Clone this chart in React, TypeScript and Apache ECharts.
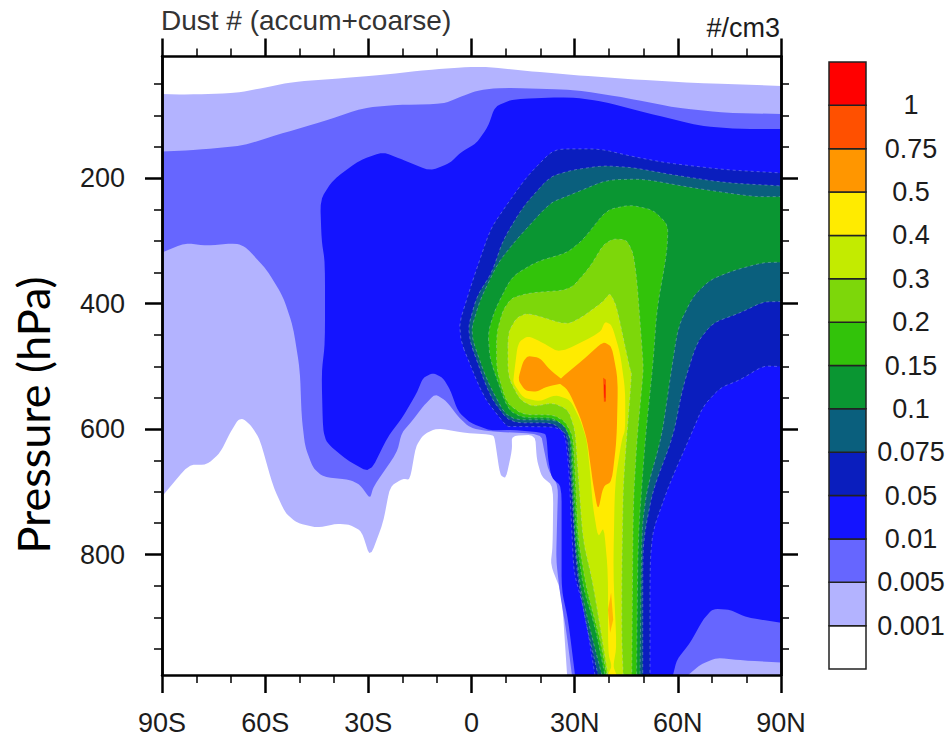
import React, { useEffect, useRef } from "react";
import * as echarts from "echarts";

const titleLeft = "Dust # (accum+coarse)";
const titleRight = "#/cm3";
const yName = "Pressure (hPa)";
const xTickLabels = ["90S", "60S", "30S", "0", "30N", "60N", "90N"];
const yMajor = [200, 400, 600, 800];
const yMinor = [50, 100, 150, 250, 300, 350, 450, 500, 550, 650, 700, 750, 850, 900, 950];
const levelLabels = ["0.001", "0.005", "0.01", "0.05", "0.075", "0.1", "0.15", "0.2", "0.3", "0.4", "0.5", "0.75", "1"];
const barColors = ["#FFFFFF", "#B3B3FF", "#6666FF", "#1414FF", "#0A1EBE", "#0A5F7D", "#0A9632", "#32C30A", "#7DD70A", "#C3EB00", "#FFEB00", "#FF9600", "#FF5000", "#FF0000"];

type P = [number, number];
const c001: P[] = [[-90, 65.7], [-82.7, 66.8], [-68.2, 64], [-60.6, 56], [-51.9, 46.5], [-40.3, 41.8], [-25.7, 35.4], [-12.9, 27.4], [-0.4, 22.6], [4.5, 22.6], [16.1, 29], [29.5, 35.4], [45.2, 41.8], [64.4, 48.1], [90, 52.9], [90, 992], [27.8, 992], [26.2, 860.9], [23, 816.2], [23.6, 787], [23.8, 691.4], [20.4, 675.5], [19, 649], [18.5, 609], [11.7, 610.7], [11.8, 633], [10, 679], [8.3, 673], [6.8, 617], [6.3, 609], [-1.4, 606.4], [-10.1, 598.4], [-14, 609], [-16.2, 627.7], [-17.9, 680.8], [-19.9, 679], [-23.7, 691.4], [-25.7, 749.3], [-29.5, 805], [-31.9, 763.2], [-35.3, 752.5], [-39.2, 750.9], [-45, 757.3], [-50.8, 749.3], [-54.2, 733.4], [-57.7, 691.4], [-61.5, 617.1], [-63.9, 595.9], [-66.3, 583.6], [-67.9, 585.2], [-70.2, 605.9], [-73.1, 637.8], [-77, 656.9], [-82.3, 656.9], [-90, 707.4]];
const c005: P[] = [[-90, 157.6], [-79.9, 154.9], [-66.4, 148.1], [-56.6, 131], [-43.2, 109.8], [-31.5, 88], [-21.7, 83.2], [-8.3, 81.6], [-3.3, 70.5], [1.5, 60.4], [8.3, 55.7], [30.6, 59.3], [45.1, 72.1], [59.7, 88], [74.2, 96], [90, 97.6], [90, 971.9], [79, 968.8], [71.3, 964.5], [66.5, 975.6], [63, 992], [29.2, 992], [27.5, 919.9], [25.7, 860.9], [24.6, 808.3], [24.9, 744.6], [25.2, 690.4], [22.3, 664.9], [21.1, 633], [20.2, 607.5], [5.4, 603.9], [-0.4, 598], [-3.9, 580], [-7.2, 556], [-10.6, 543.8], [-14.1, 564], [-17, 585.2], [-20.3, 605.9], [-21.7, 637.8], [-28.5, 691.4], [-29.5, 711.1], [-32.4, 688.8], [-35.3, 680.8], [-43.2, 676], [-46.1, 661.7], [-48.4, 627.7], [-49.4, 580], [-49.9, 505.5], [-51.9, 436.5], [-54.8, 388.7], [-59.5, 346.2], [-65.4, 311.1], [-68.3, 303.6], [-77, 307.4], [-83.3, 303.6], [-90, 318.6]];
const c01: P[] = [[-43.6, 298.4], [-44, 234.6], [-40.3, 202.7], [-32.4, 170.9], [-25.7, 158.1], [-19.9, 170.9], [-12.1, 188.4], [-6.2, 175.7], [-3.3, 159.7], [1.5, 143.8], [4.8, 117.8], [6.8, 85.9], [12.1, 73.7], [28.7, 70.5], [38.3, 78], [51, 96], [66.5, 116.7], [77.1, 121.5], [90, 121.5], [90, 908.7], [80, 900.3], [75.2, 888], [70.2, 886.4], [67.3, 903.9], [63.6, 940.6], [59.7, 967.7], [58.6, 992], [30.1, 992], [28.1, 903.9], [26.2, 856.1], [26.2, 776.4], [26.2, 691.4], [23.3, 677.6], [22.3, 649], [21.9, 617.1], [21.4, 606], [12.1, 601.1], [5.4, 602.2], [-0.4, 589.9], [-3.9, 572], [-6.2, 537.4], [-8.3, 518.3], [-11.2, 510.3], [-14.1, 518.3], [-15.9, 542.2], [-19.9, 580], [-24.3, 611.8], [-29.5, 669.7], [-36.3, 649], [-42.1, 621.9], [-43.2, 601.1], [-43.6, 510.3], [-42.6, 462.5], [-42.6, 335]];
const c05: P[] = [[-4.3, 444.5], [0.4, 362.1], [5.4, 282.4], [9.2, 250.6], [16.1, 197.5], [22.8, 159.7], [25.7, 153.3], [37.4, 153.3], [47, 165.6], [56.8, 175.7], [74.2, 186.8], [90, 191.6], [90, 500.3], [84.8, 499.2], [78.1, 521.5], [72.3, 534.2], [67.3, 564], [63.6, 611.8], [57.7, 685.6], [52.8, 760.5], [51.9, 813.1], [51.9, 992], [35.9, 992], [33, 892.8], [29.8, 829], [29.2, 765.3], [28.4, 669.7], [27.5, 617.1], [26.2, 601.1], [23.7, 596.4], [12.1, 595.9], [10.2, 595.9], [3.4, 548.1]];
const c075: P[] = [[-1.4, 446.6], [1.5, 388.7], [5.9, 350.9], [9.2, 298.4], [15, 245.3], [22.8, 197.5], [29.5, 186.8], [38.3, 180], [47, 183.1], [58.6, 194.8], [74.2, 207.5], [90, 212.3], [90, 396.7], [84.8, 397.1], [78.1, 414.7], [70.2, 430.6], [65.5, 462.5], [61.5, 532.2], [58.6, 611.8], [52.8, 696.8], [50.5, 760.5], [49.8, 797.2], [49.8, 992], [36.8, 992], [33.5, 914.6], [30.6, 829], [28.8, 669.7], [28, 617.1], [27.2, 606], [23.7, 590], [11.2, 590], [5.4, 548.1]];
const c1: P[] = [[-0.4, 446.6], [2.5, 394], [7.7, 335], [13, 298.4], [22.8, 239.4], [28.7, 226.7], [39.3, 202.7], [49.9, 201.2], [64.4, 215.5], [81.9, 229.4], [90, 229.4], [90, 333.9], [84.8, 334.5], [76.1, 347.3], [69.4, 362.1], [64.4, 388.7], [60.1, 436.5], [57.7, 521.5], [55.3, 611.8], [51, 696.8], [49.5, 760.5], [49, 992], [37.9, 992], [34.5, 919.9], [31.6, 850.8], [30.1, 776.4], [29.2, 669.7], [28.7, 617.1], [28.1, 601.1], [24.8, 585.2], [10.6, 585.2], [4.4, 521.5]];
const c15: P[] = [[4.8, 446.6], [6.8, 409.9], [11.7, 356.9], [19, 332.9], [27.7, 319.1], [32.4, 298.4], [39.3, 250.6], [46.1, 242.6], [52.8, 250.6], [57.2, 274.5], [56.8, 319.1], [53.9, 409.9], [52.8, 494.4], [50.5, 617.1], [48.4, 776.4], [48, 992], [38.8, 992], [35.9, 914.6], [32.4, 850.8], [30.6, 776.4], [29.5, 669.7], [29.2, 621.9], [27.2, 595.9], [23.7, 582], [15, 582], [10.6, 569.3], [5.4, 489.6]];
const c2: P[] = [[7.3, 446.6], [9.2, 409.9], [11.7, 390.8], [17, 382.8], [28.7, 378], [34.5, 340.9], [38.3, 306.3], [41.2, 296.7], [45.1, 298.4], [47, 319.1], [48.1, 362.1], [49.9, 494.4], [49.9, 510.3], [48.1, 617.1], [47, 723.4], [46.6, 992], [39.3, 992], [37.4, 935.8], [33.5, 856.1], [31, 776.4], [30.1, 669.7], [29.5, 611.8], [27.2, 587.9], [23.7, 577.2], [15, 577.2], [10.2, 558.1], [7.3, 505.5]];
const c3: P[] = [[10.6, 446.6], [13.1, 422.7], [16.4, 414.7], [27.7, 433.8], [32.4, 420.6], [38.3, 396.7], [40.3, 382.8], [42.2, 404.6], [46.1, 505.5], [46.6, 510.3], [44.7, 643.7], [44.1, 696.7], [43.7, 829], [43.7, 935.8], [44.1, 992], [39.7, 992], [35.3, 845], [32.4, 776.4], [31, 669.7], [30.1, 601.1], [28.1, 569.3], [23.7, 558.1], [17.9, 564], [14.1, 553.3], [10.6, 516.2]];
const c4: P[] = [[12.4, 510.3], [13.5, 462.5], [16.4, 451.3], [20.8, 462.5], [25.7, 478.4], [37.4, 446.6], [38.8, 428.5], [40.8, 433.8], [43.2, 478.4], [44.7, 537.4], [44.7, 601.1], [43.7, 617.1], [41.7, 685.6], [41.2, 829], [42.2, 946.4], [41.2, 978.3], [42.2, 992], [39.6, 992], [40.8, 978.3], [39.7, 956.5], [39.7, 829], [38.5, 755.2], [36.8, 773.2], [35.3, 723.4], [34.5, 669.7], [33.5, 617.1], [31.6, 585.2], [28.7, 553.3], [24.3, 545.3], [19.9, 556], [15, 550.1], [12.1, 526.2]];
const c5West: P[] = [[13.5, 521.4], [15, 492.3], [16.4, 483.2], [19.9, 486.4], [22.8, 505.5], [27.5, 526], [21.9, 532.1], [19, 540.6], [15.6, 538.5]];
const c5East: P[] = [[24.8, 524.1], [32.4, 489.6], [38.3, 460.4], [40.8, 468.4], [42.6, 521.5], [42.2, 617.1], [40.8, 683.5], [38.3, 691.5], [36.8, 731.3], [35.3, 685.6], [34.8, 665], [33.6, 617.1], [31.6, 580.5], [28.1, 537.4]];
const c5Low: P[] = [[40.6, 860.9], [41.2, 903.9], [40.3, 924.6], [39.7, 888]];
const c75: P[] = [[38.3, 518.3], [39.1, 521.5], [39.1, 556], [38.5, 556.5]];
const c100: P[] = [[38.6, 527.8], [38.9, 531], [38.9, 550], [38.7, 550]];

const contourLayers: { pts: P[]; color: number; edge?: boolean; soft?: boolean; exact?: boolean }[] = [
  { pts: c001, color: 1 },
  { pts: c005, color: 2 },
  { pts: c01, color: 3 },
  { pts: c05, color: 4, edge: true },
  { pts: c075, color: 5, edge: true },
  { pts: c1, color: 6, edge: true },
  { pts: c15, color: 7, edge: true },
  { pts: c2, color: 8, edge: true },
  { pts: c3, color: 9, edge: true },
  { pts: c4, color: 10 },
  { pts: c5West, color: 11 },
  { pts: c5East, color: 11 },
  { pts: c5Low, color: 11, soft: true, exact: true },
  { pts: c75, color: 12, exact: true },
  { pts: c100, color: 13, exact: true },
];

const FONT = "'Liberation Sans', Arial, sans-serif";
const INK = "#1c1c1c";
const LEFT = 162;
const RIGHT = 781;
const BOTTOM = 675;

// Rounds the polygon's drawn corners in pixel space; corners on the plot's frame stay put.
function roundCorners(points: number[][], rounds: number, cut: number): number[][] {
  let pts = points;
  const onFrame = (p: number[]) =>
    Math.abs(p[0] - LEFT) < 0.6 || Math.abs(p[0] - RIGHT) < 0.6 || Math.abs(p[1] - BOTTOM) < 0.6;
  for (let r = 0; r < rounds; r++) {
    const out: number[][] = [];
    for (let i = 0; i < pts.length; i++) {
      const a = pts[(i - 1 + pts.length) % pts.length];
      const p = pts[i];
      const b = pts[(i + 1) % pts.length];
      if (onFrame(p)) {
        out.push(p);
      } else {
        out.push([p[0] + (a[0] - p[0]) * cut, p[1] + (a[1] - p[1]) * cut]);
        out.push([p[0] + (b[0] - p[0]) * cut, p[1] + (b[1] - p[1]) * cut]);
      }
    }
    pts = out;
  }
  return pts;
}

export default function App() {
  const ref = useRef<HTMLDivElement>(null);
  useEffect(() => {
    document.body.style.margin = "0";
    const chart = echarts.init(ref.current!, undefined, { renderer: "svg" });
    const labelStyle = { fontFamily: FONT, fontSize: 27, color: INK };
    const xBase = (position: string) => ({
      type: "value",
      gridIndex: 0,
      position,
      min: -90,
      max: 90,
      interval: 30,
      z: 10,
      splitLine: { show: false },
      axisLine: { show: true, lineStyle: { color: "#000", width: 2.5 } },
      axisTick: { show: true, inside: false, length: 18, lineStyle: { color: "#000", width: 2.5 } },
      minorTick: { show: true, splitNumber: 3, length: 8, lineStyle: { color: "#000", width: 1.5 } },
      minorSplitLine: { show: false },
    });
    const yBase = (position: string, values: number[], major: boolean, labels: boolean) => ({
      type: "value",
      gridIndex: 0,
      position,
      inverse: true,
      min: 6,
      max: 992,
      z: 10,
      splitLine: { show: false },
      axisLine: { show: true, onZero: false, lineStyle: { color: "#000", width: 2.5 } },
      axisTick: {
        show: true,
        inside: false,
        customValues: values,
        length: major ? 17 : 8,
        lineStyle: { color: "#000", width: major ? 2.5 : 1.5 },
      },
      axisLabel: labels
        ? { show: true, customValues: values, margin: 37, ...labelStyle }
        : { show: false },
    });
    const contourSeries = contourLayers.map((layer, i) => ({
      type: "custom",
      name: "level" + i,
      xAxisIndex: 0,
      yAxisIndex: 0,
      clip: true,
      silent: true,
      data: layer.pts,
      renderItem: (params: any, api: any) => {
        if (params.dataIndex !== 0) return null;
        const raw = layer.pts.map((p) => api.coord(p));
        return {
          type: "polygon",
          shape: { points: layer.exact ? raw : roundCorners(raw, 2, 0.17) },
          style: {
            fill: barColors[layer.color],
            opacity: layer.soft ? 0.6 : 1,
            ...(layer.edge ? { stroke: "rgba(195,205,240,0.45)", lineWidth: 0.8, lineDash: [3, 3] } : {}),
          },
        };
      },
    }));
    const option: any = {
      animation: false,
      backgroundColor: "#ffffff",
      title: [
        { text: titleLeft, left: 156, top: 1, textStyle: { fontFamily: FONT, fontSize: 28, fontWeight: "normal", color: "#333" } },
        { text: titleRight, right: 164, top: 9, textStyle: { fontFamily: FONT, fontSize: 27, fontWeight: "normal", color: INK } },
      ],
      grid: [
        { left: LEFT, top: 56.5, width: RIGHT - LEFT, height: BOTTOM - 56.5, containLabel: false, show: false },
        { left: 829, top: 62, width: 37, height: 607, show: false },
      ],
      xAxis: [
        {
          ...xBase("bottom"),
          axisLabel: {
            show: true,
            margin: 34,
            formatter: (v: number) => xTickLabels[Math.round((v + 90) / 30)],
            ...labelStyle,
          },
        },
        { ...xBase("top"), axisLabel: { show: false } },
        { type: "value", gridIndex: 1, min: 0, max: 1, show: false },
      ],
      yAxis: [
        yBase("left", yMajor, true, true),
        yBase("left", yMinor, false, false),
        yBase("right", yMajor, true, false),
        yBase("right", yMinor, false, false),
        {
          type: "value",
          gridIndex: 1,
          position: "right",
          min: 0,
          max: 14,
          interval: 1,
          splitLine: { show: false },
          axisLine: { show: false },
          axisTick: { show: false },
          axisLabel: {
            show: true,
            margin: 45,
            align: "center",
            showMinLabel: false,
            showMaxLabel: false,
            formatter: (v: number) => levelLabels[v - 1] ?? "",
            ...labelStyle,
          },
        },
      ],
      graphic: [
        {
          type: "text",
          x: 33,
          y: 415,
          rotation: Math.PI / 2,
          style: { text: yName, fontFamily: "Lato, sans-serif", fontSize: 45, fill: "#000", align: "center", verticalAlign: "middle" },
        },
      ],
      series: [
        ...contourSeries,
        {
          type: "custom",
          name: "colorbar",
          xAxisIndex: 2,
          yAxisIndex: 4,
          silent: true,
          data: barColors.map((_, i) => [0, i]),
          renderItem: (params: any, api: any) => {
            const i = api.value(1);
            const a = api.coord([0, i + 1]);
            const b = api.coord([1, i]);
            return {
              type: "rect",
              shape: { x: a[0], y: a[1], width: b[0] - a[0], height: b[1] - a[1] },
              style: { fill: barColors[i], stroke: "#222", lineWidth: 1.5 },
            };
          },
        },
      ],
    };
    chart.setOption(option);
    return () => chart.dispose();
  }, []);
  return <div ref={ref} style={{ position: "absolute", left: 0, top: 0, width: 949, height: 740 }} />;
}
